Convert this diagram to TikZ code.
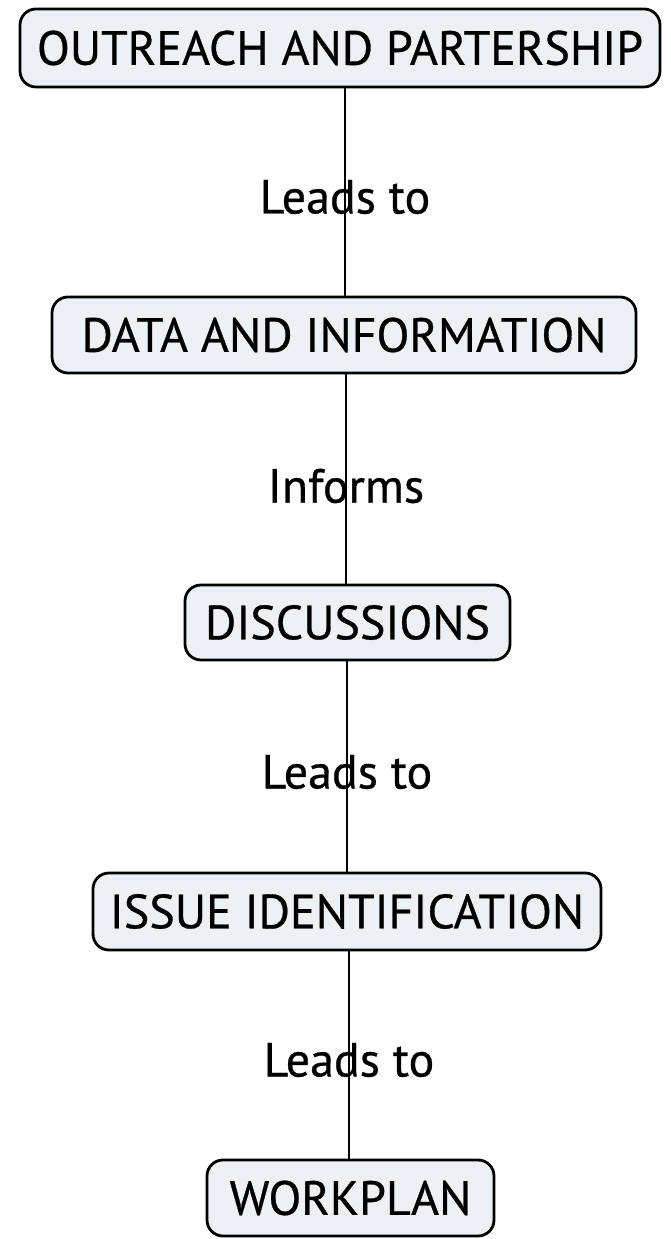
\documentclass[tikz,border=0pt]{standalone}
\usepackage{fontspec}
\setmainfont[RawFeature={embolden=0.6}]{PT Sans}
\definecolor{boxfill}{HTML}{EDF1F3}
\begin{document}
\begin{tikzpicture}[x=1pt,y=1pt,
  stage/.style={draw=black, line width=2.8pt, rounded corners=16pt, fill=boxfill,
    inner sep=0pt, font=\fontsize{48}{54}\selectfont},
  rel/.style={inner sep=0pt, font=\fontsize{48}{54}\selectfont},
  conn/.style={draw=black, line width=1.8pt}]
\fill[white] (0,0) rectangle (670,1239);
\useasboundingbox (0,0) rectangle (670,1239);
% boxes
\node[stage, minimum width=640, minimum height=78] (b1) at (340,1191) {OUTREACH AND PARTERSHIP};
\node[stage, minimum width=584, minimum height=76] (b2) at (344,904) {DATA AND INFORMATION};
\node[stage, minimum width=325, minimum height=75] (b3) at (347.5,616.5) {DISCUSSIONS};
\node[stage, minimum width=508, minimum height=77] (b4) at (347,327.5) {ISSUE IDENTIFICATION};
\node[stage, minimum width=287, minimum height=76] (b5) at (350.5,41) {WORKPLAN};
% labels (positions of connectors)
\node[rel] (l1) at (345,1042) {Leads to};
\node[rel] (l2) at (346,753) {Informs};
\node[rel] (l3) at (347,467) {Leads to};
\node[rel] (l4) at (349,179) {Leads to};
% connectors
\draw[conn] (l1 |- b1.south) -- (l1 |- b2.north);
\draw[conn] (l2 |- b2.south) -- (l2 |- b3.north);
\draw[conn] (l3 |- b3.south) -- (l3 |- b4.north);
\draw[conn] (l4 |- b4.south) -- (l4 |- b5.north);
\end{tikzpicture}
\end{document}
